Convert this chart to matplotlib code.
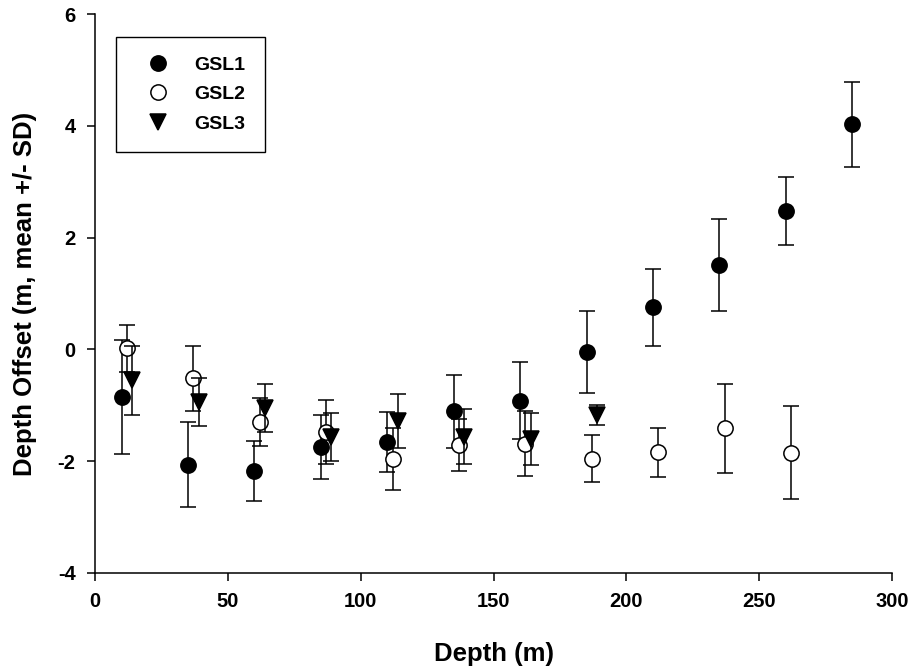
import numpy as np
import matplotlib
matplotlib.use('Agg')
import matplotlib.pyplot as plt

# depth (m), mean offset and SD
gsl1_depth = [10, 35, 60, 85, 110, 135, 160, 185, 210, 235, 260, 285]
gsl1_mean = [-0.85, -2.06, -2.18, -1.75, -1.66, -1.11, -0.92, -0.05, 0.75, 1.51, 2.48, 4.03]
gsl1_sd = [1.02, 0.76, 0.54, 0.57, 0.54, 0.65, 0.69, 0.73, 0.69, 0.83, 0.61, 0.76]

gsl2_depth = [12, 37, 62, 87, 112, 137, 162, 187, 212, 237, 262]
gsl2_mean = [0.02, -0.52, -1.30, -1.48, -1.96, -1.71, -1.69, -1.96, -1.84, -1.41, -1.85]
gsl2_sd = [0.42, 0.59, 0.43, 0.57, 0.56, 0.47, 0.58, 0.42, 0.44, 0.80, 0.83]

gsl3_depth = [14, 39, 64, 89, 114, 139, 164, 189]
gsl3_mean = [-0.55, -0.94, -1.05, -1.57, -1.28, -1.56, -1.60, -1.17]
gsl3_sd = [0.62, 0.43, 0.43, 0.43, 0.48, 0.49, 0.47, 0.18]

plt.rcParams['font.family'] = ['Liberation Sans', 'DejaVu Sans']
plt.rcParams['font.weight'] = 'bold'
plt.rcParams['axes.unicode_minus'] = False

fig = plt.figure(figsize=[9.11, 6.69], dpi=100)
ax = fig.add_axes([0.1043, 0.1435, 0.8749, 0.8355])

ekw = dict(ecolor='k', elinewidth=1.1, capsize=6, capthick=1.1, linestyle='none',
           markeredgecolor='k', markeredgewidth=1.1)
ax.errorbar(gsl1_depth, gsl1_mean, yerr=gsl1_sd, marker='o', markersize=11,
            markerfacecolor='k', label='GSL1', zorder=3, **ekw)
ax.errorbar(gsl2_depth, gsl2_mean, yerr=gsl2_sd, marker='o', markersize=11,
            markerfacecolor='w', label='GSL2', zorder=4, **ekw)
ax.errorbar(gsl3_depth, gsl3_mean, yerr=gsl3_sd, marker='v', markersize=11,
            markerfacecolor='k', label='GSL3', zorder=5, **ekw)

ax.set_xlim(0, 300)
ax.set_ylim(-4, 6)
ax.set_xticks(np.arange(0, 301, 50))
ax.set_yticks(np.arange(-4, 7, 2))

ax.spines['right'].set_color('none')
ax.spines['top'].set_color('none')
ax.spines['left'].set_linewidth(1.1)
ax.spines['bottom'].set_linewidth(1.1)
ax.xaxis.set_ticks_position('bottom')
ax.yaxis.set_ticks_position('left')
ax.tick_params(direction='out', length=6, width=1.1, labelsize=14.5, pad=8)
for lab in ax.get_xticklabels() + ax.get_yticklabels():
    lab.set_fontweight('bold')

ax.set_xlabel('Depth (m)', fontsize=18.5, fontweight='bold', labelpad=22)
ax.set_ylabel('Depth Offset (m, mean +/- SD)', fontsize=18.5, fontweight='bold', labelpad=15)

handles, labels = ax.get_legend_handles_labels()
handles = [h[0] for h in handles]
leg = ax.legend(handles, labels, loc='upper left', bbox_to_anchor=(0.0263, 0.959),
                borderaxespad=0, fancybox=False, edgecolor='k', framealpha=1,
                borderpad=1.0, handletextpad=0.75, labelspacing=0.6, handlelength=2.3,
                prop={'size': 14, 'weight': 'bold'})
leg.get_frame().set_linewidth(1.0)

fig.savefig('out.png', dpi=100)
